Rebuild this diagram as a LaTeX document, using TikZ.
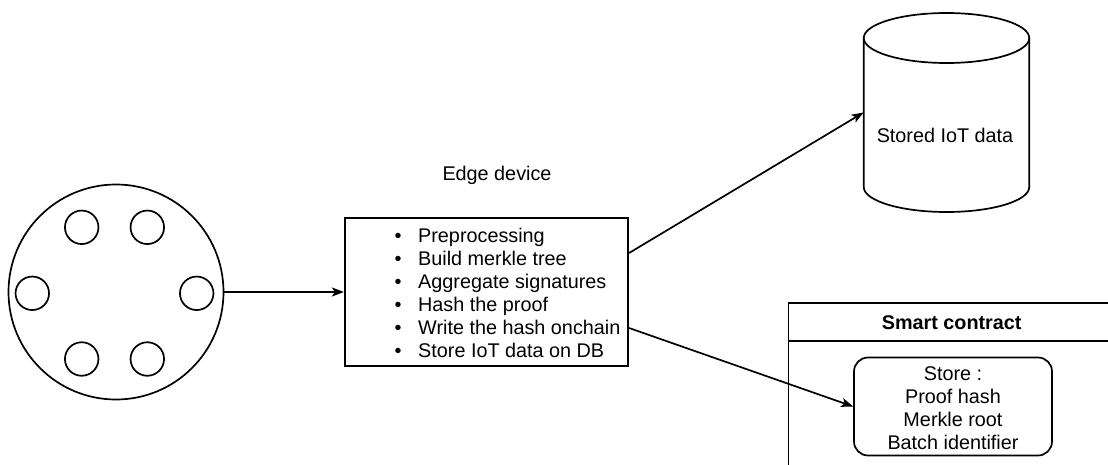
\documentclass[tikz,border=0pt]{standalone}
\usepackage{fontspec}
\setmainfont{Liberation Sans}
\usetikzlibrary{arrows.meta,calc}

\tikzset{
  line/.style={draw=black, line width=1.7pt},
  conn/.style={line, -{Stealth[length=12pt,width=9pt,inset=3pt]}},
  sensor/.style={circle, line, minimum size=33.5pt, inner sep=0pt},
  label/.style={font=\fontsize{19.8}{23}\selectfont, inner sep=0pt},
}

\begin{document}
\begin{tikzpicture}[x=1pt, y=-1pt]
  \useasboundingbox (0,0) rectangle (1108,464);

  % sensor cluster
  \node[circle, line, minimum size=215pt, inner sep=0pt] (iot) at (116,292) {};
  \node[sensor] (s1) at (81.7,227.3) {};
  \node[sensor] (s2) at (147.3,227.3) {};
  \node[sensor] (s3) at (32.3,293.3) {};
  \node[sensor] (s4) at (196.7,293.3) {};
  \node[sensor] (s5) at (81.7,359) {};
  \node[sensor] (s6) at (147.3,359) {};

  % edge device
  \node[label] (edgetitle) at (497,175) {Edge device};
  \node[rectangle, line, minimum width=283.5pt, minimum height=148pt, inner sep=0pt] (edge) at (486.5,292) {};
  \node[label, align=left, anchor=west] (tasks) at (394.5,293) {%
    \makebox[23.5pt][l]{\textbullet}Preprocessing\\
    \makebox[23.5pt][l]{\textbullet}Build merkle tree\\
    \makebox[23.5pt][l]{\textbullet}Aggregate signatures\\
    \makebox[23.5pt][l]{\textbullet}Hash the proof\\
    \makebox[23.5pt][l]{\textbullet}Write the hash onchain\\
    \makebox[23.5pt][l]{\textbullet}Store IoT data on DB};

  % database cylinder
  \node[minimum width=165.5pt, minimum height=149pt, inner sep=0pt] (db) at (946.5,112.5) {};
  \draw[line] (946.5,38) ellipse [x radius=82.75, y radius=25];
  \draw[line] (863.75,38) -- (863.75,187)
    arc [start angle=180, end angle=0, x radius=82.75, y radius=25]
    -- (1029.25,38);
  \node[label] (dbtext) at (945,135) {Stored IoT data};

  % smart contract frame
  \coordinate (scTL) at (788.5,303);
  \draw[line] (1120,303) -- (scTL) -- (788.5,475);
  \draw[line] (788.5,341) -- (1120,341);
  \node[label, font=\fontsize{19.8}{23}\selectfont\bfseries] (sctitle) at (951.7,322.5) {Smart contract};
  \node[rectangle, rounded corners=14pt, line, minimum width=198pt, minimum height=98pt, inner sep=0pt] (store) at (953,406.5) {};
  \node[label, align=center] (storetext) at (953,408) {Store :\\Proof hash\\Merkle root\\Batch identifier};

  % connectors
  \draw[conn] (iot.east) -- (edge.west);
  \draw[conn] ([yshift=39pt]edge.east) -- (db.west);
  \draw[conn] ([yshift=-36pt]edge.east) -- (store.west);
\end{tikzpicture}
\end{document}
